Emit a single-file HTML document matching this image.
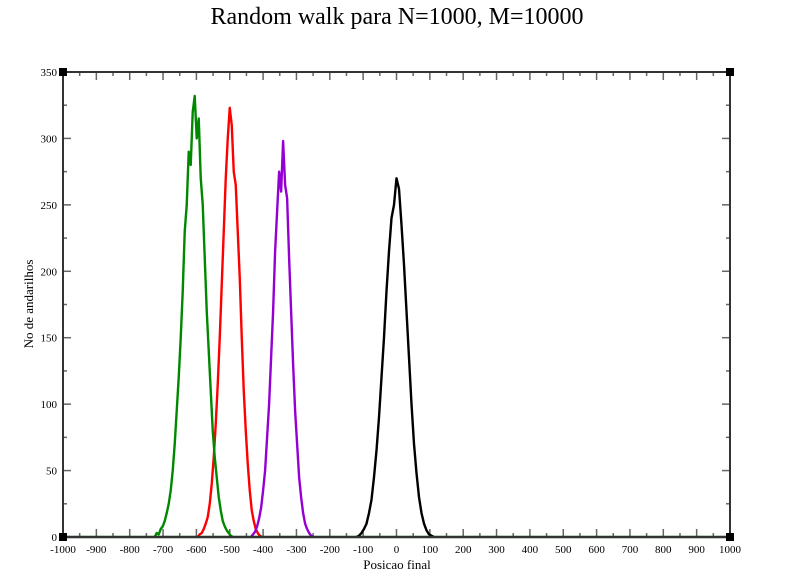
<!DOCTYPE html>
<html><head><meta charset="utf-8">
<style>
body{margin:0;background:#fff;width:794px;height:577px;overflow:hidden;font-family:"Liberation Serif",serif;}
svg{display:block}
</style></head>
<body>
<svg id="chart" width="794" height="577" xmlns="http://www.w3.org/2000/svg">
<text x="397" y="24" text-anchor="middle" font-size="24" font-family="Liberation Serif, serif">Random walk para N=1000, M=10000</text>
<text x="397" y="569" text-anchor="middle" font-size="13">Posicao final</text>
<text x="33" y="304" text-anchor="middle" font-size="13" transform="rotate(-90 33 304)">No de andarilhos</text>
<g id="axes"></g>
<g id="series"></g>
<g id="frame"></g>
</svg>
<script>
const xTicks=[-1000,-900,-800,-700,-600,-500,-400,-300,-200,-100,0,100,200,300,400,500,600,700,800,900,1000];
const yTicks=[0,50,100,150,200,250,300,350];
const greenStart=-725, greenStep=6;
const greenCounts=[0,3,2,6,8,12,18,25,35,50,70,95,120,150,185,230,250,290,280,320,332,300,315,270,250,210,170,140,110,80,60,45,30,20,12,8,5,3,1,0];
const redStart=-596, redStep=6;
const redCounts=[0,2,3,6,10,15,25,40,60,85,115,150,190,230,270,300,323,310,275,265,230,195,150,110,80,55,35,20,12,6,3,1,0];
const purpleStart=-436, purpleStep=6;
const purpleCounts=[0,2,4,8,14,22,35,50,75,100,135,170,215,245,275,260,298,265,255,210,170,130,95,70,45,30,18,10,6,3,1,0];
const blackStart=-120, blackStep=7.5;
const blackCounts=[0,1,3,6,10,18,28,45,65,90,120,150,185,215,240,250,270,262,235,205,170,135,100,70,48,30,18,10,5,2,1,0];

const X0=63,X1=730,Y0=537,Y1=72;
const sx=v=>X0+(v+1000)/2000*(X1-X0);
const sy=v=>Y0-v/350*(Y0-Y1);
const NS="http://www.w3.org/2000/svg";
function mk(tag,attrs,parent){const e=document.createElementNS(NS,tag);for(const k in attrs)e.setAttribute(k,attrs[k]);parent.appendChild(e);return e;}
const axes=document.getElementById('axes');
for(let v=-1000;v<=1000;v+=50){
  const major=v%100===0, L=major?8:4, x=sx(v);
  const t1=mk('line',{x1:x,x2:x,y1:Y0,y2:Y0-L,stroke:'#666','stroke-width':1.5},axes);
  
  
  const t2=mk('line',{x1:x,x2:x,y1:Y1,y2:Y1+L,stroke:'#666','stroke-width':1.5},axes);
  
  
}
for(let v=0;v<=350;v+=25){
  const major=v%50===0, L=major?8:4, y=sy(v);
  const t1=mk('line',{x1:X0,x2:X0+L,y1:y,y2:y,stroke:'#666','stroke-width':1.5},axes);
  
  
  const t2=mk('line',{x1:X1,x2:X1-L,y1:y,y2:y,stroke:'#666','stroke-width':1.5},axes);
  
  
}
xTicks.forEach(v=>{
  const t=mk('text',{x:sx(v),y:553,'text-anchor':'middle','font-size':11},axes);
  t.textContent=v;
  
  
});
yTicks.forEach(v=>{
  const t=mk('text',{x:57,y:sy(v)+4,'text-anchor':'end','font-size':11},axes);
  t.textContent=v;
  
  
});
const ser=document.getElementById('series');
function series(start,step,counts,color,name){
  let d='';
  counts.forEach((c,i)=>{d+=(i?'L':'M')+sx(start+i*step).toFixed(2)+' '+sy(c).toFixed(2);});
  const p=mk('path',{d:d,fill:'none',stroke:color,'stroke-width':2.4,'stroke-linejoin':'round'},ser);
  
  
}
series(redStart,redStep,redCounts,'#ff0000','series-red');
series(purpleStart,purpleStep,purpleCounts,'#9400d3','series-purple');
series(blackStart,blackStep,blackCounts,'#000000','series-black');
series(greenStart,greenStep,greenCounts,'#008800','series-green');
const fr=document.getElementById('frame');
const base=mk('line',{x1:X0,x2:X1,y1:Y0,y2:Y0,stroke:'#003300','stroke-width':2.5},fr);


const box=mk('rect',{x:X0,y:Y1,width:X1-X0,height:Y0-Y1,fill:'none',stroke:'#333','stroke-width':2},fr);


[[X0,Y0],[X1,Y0],[X0,Y1],[X1,Y1]].forEach(([x,y])=>{
  const c=mk('rect',{x:x-4,y:y-4,width:8,height:8,fill:'#000'},fr);
  
  
});
</script>
</body></html>
